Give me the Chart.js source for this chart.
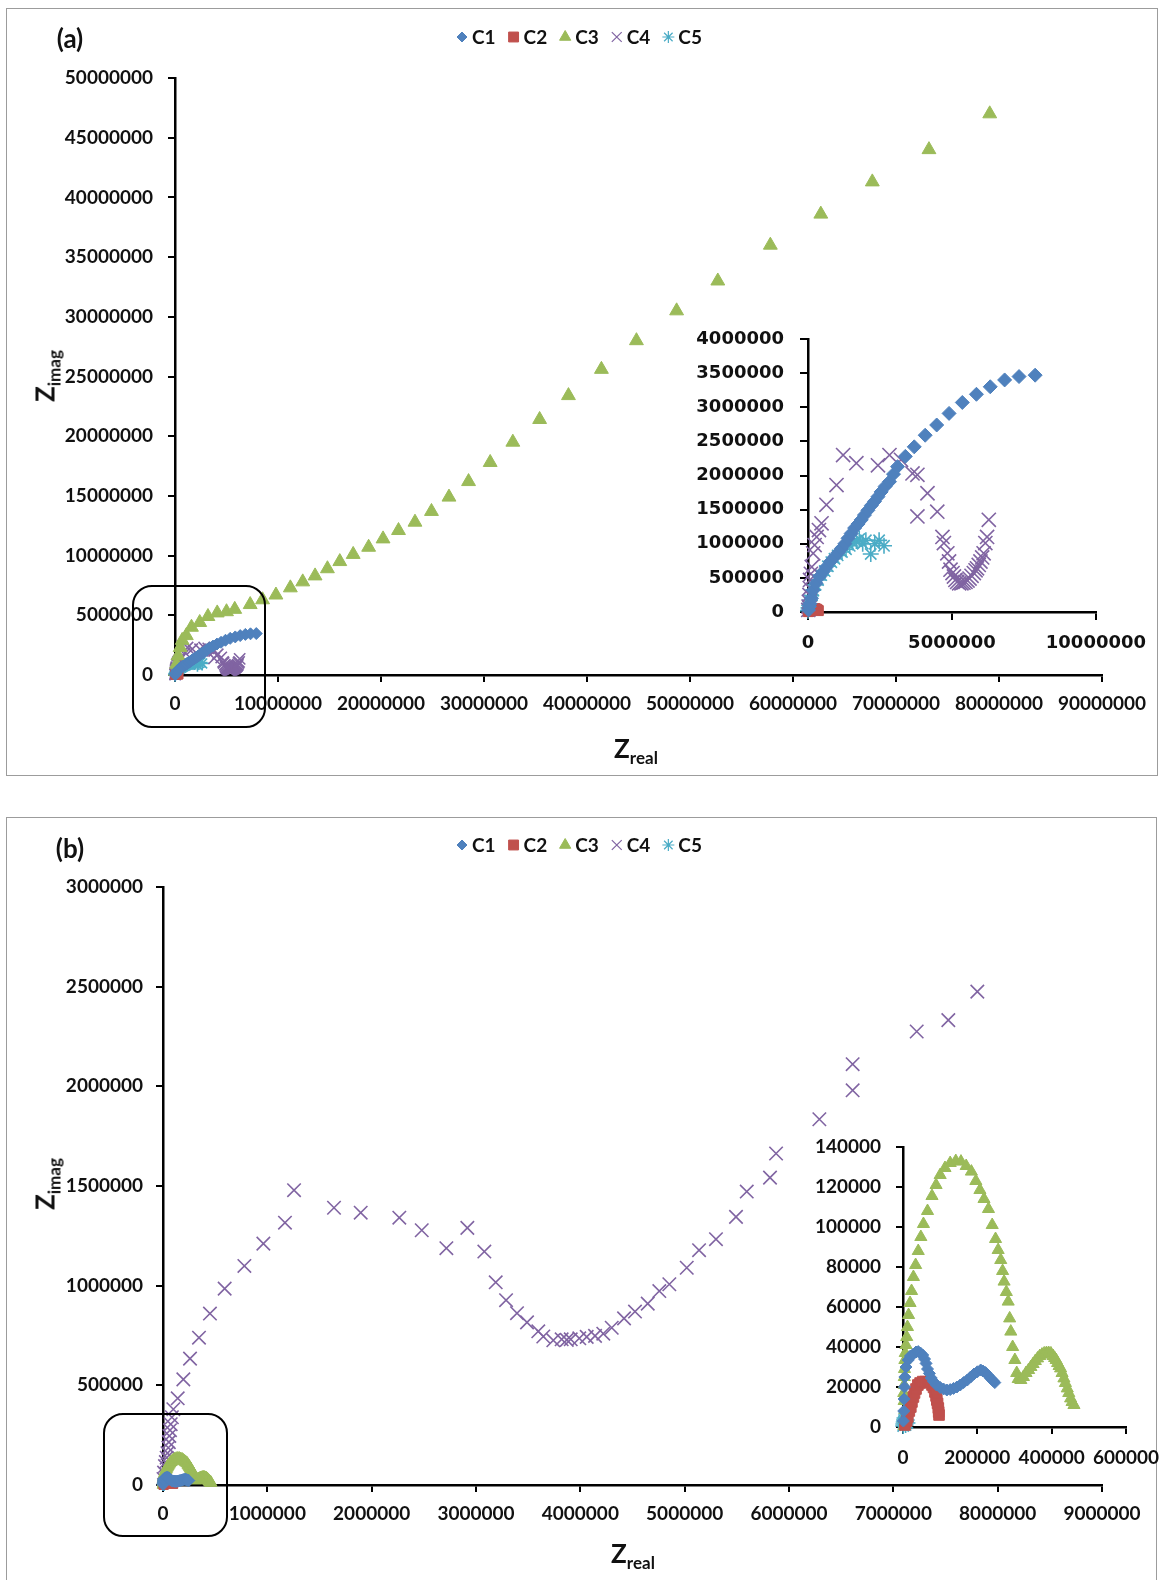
<!DOCTYPE html>
<html>
<head>
<meta charset="utf-8">
<script src="https://cdn.jsdelivr.net/npm/chart.js@4.4.1/dist/chart.umd.min.js"></script>
<style>
  html, body { margin: 0; padding: 0; background: #fff; }
  body { width: 1159px; height: 1580px; position: relative; overflow: hidden; font-family: Lato, "Open Sans", sans-serif; color: #111; }
  .panel { position: absolute; border: 1.5px solid #9c9c9c; box-sizing: border-box; }
  canvas { position: absolute; }
  .zoombox { position: absolute; border: 2.5px solid #000; border-radius: 20px; box-sizing: border-box; z-index: 5; }
  .tag { position: absolute; font-weight: bold; font-size: 26px; line-height: 1; transform: translate(-50%, -50%); }
  .atitle { position: absolute; font-weight: bold; font-size: 26px; line-height: 1; white-space: nowrap; transform: translate(-50%, -50%); }
  .atitle sub { font-size: 17px; vertical-align: -6px; }
  .atitle.vert { transform: translate(-50%, -50%) rotate(-90deg); }
</style>
</head>
<body>
<div class="panel" style="left:6px; top:8px; width:1152px; height:768px"></div>
<div class="panel" style="left:6px; top:817px; width:1151px; height:800px"></div>

<canvas id="mainA" width="1159" height="780" style="left:0; top:0"></canvas>
<canvas id="insetA" width="479" height="380" style="left:680px; top:300px"></canvas>
<canvas id="mainB" width="1159" height="790" style="left:0; top:790px"></canvas>
<canvas id="insetB" width="400" height="400" style="left:780px; top:1110px"></canvas>

<div class="zoombox" style="left:132px; top:585px; width:134px; height:143px"></div>
<div class="zoombox" style="left:103px; top:1413px; width:125px; height:124px"></div>

<div class="tag" style="left:70px; top:38px">(a)</div>
<div class="tag" style="left:70px; top:848px">(b)</div>
<div class="atitle" style="left:636px; top:750px">Z<sub>real</sub></div>
<div class="atitle vert" style="left:47px; top:376px">Z<sub>imag</sub></div>
<div class="atitle" style="left:633px; top:1555px">Z<sub>real</sub></div>
<div class="atitle vert" style="left:47px; top:1184px">Z<sub>imag</sub></div>

<script>
// Impedance spectra, [Zreal, Zimag] pairs, panel (a)
const c1a = [[20000,30000],[50000,80000],[70000,120000],[120000,200000],[180000,320000],[280000,420000],[410000,520000],[520000,590000],[640000,660000],[780000,740000],[930000,810000],[1050000,870000],[1160000,930000],[1280000,1000000],[1390000,1080000],[1500000,1150000],[1620000,1230000],[1740000,1290000],[1850000,1350000],[1960000,1420000],[2080000,1490000],[2200000,1560000],[2310000,1620000],[2430000,1690000],[2540000,1760000],[2680000,1840000],[2830000,1910000],[2970000,2020000],[3110000,2130000],[3380000,2280000],[3690000,2420000],[4070000,2590000],[4470000,2740000],[4900000,2910000],[5360000,3070000],[5850000,3190000],[6330000,3300000],[6830000,3400000],[7330000,3450000],[7890000,3470000]];
const c2a = [[10000,5000],[30000,10000],[60000,20000],[100000,30000],[150000,40000],[200000,50000],[250000,50000],[300000,40000],[330000,30000],[360000,20000]];
const c3a = [[50000,300000],[150000,900000],[300000,1600000],[500000,2300000],[700000,2900000],[1100000,3300000],[1600000,4000000],[2400000,4400000],[3200000,4900000],[4100000,5200000],[5000000,5300000],[5800000,5500000],[7300000,5900000],[8500000,6300000],[9800000,6700000],[11200000,7300000],[12400000,7800000],[13600000,8300000],[14800000,8900000],[16000000,9500000],[17300000,10100000],[18800000,10700000],[20200000,11400000],[21700000,12100000],[23300000,12800000],[24900000,13700000],[26600000,14900000],[28500000,16200000],[30600000,17800000],[32800000,19500000],[35400000,21400000],[38200000,23400000],[41400000,25600000],[44800000,28000000],[48700000,30500000],[52700000,33000000],[57800000,36000000],[62700000,38600000],[67700000,41300000],[73200000,44000000],[79100000,47000000]];
const c4a = [[10000,30000],[20000,80000],[30000,150000],[50000,250000],[60000,350000],[70000,470000],[100000,560000],[130000,660000],[180000,860000],[230000,980000],[300000,1100000],[380000,1200000],[470000,1300000],[640000,1570000],[990000,1860000],[1220000,2300000],[1680000,2180000],[2430000,2150000],[2830000,2300000],[3230000,2230000],[3630000,2030000],[3800000,2010000],[3800000,1400000],[4150000,1740000],[4490000,1470000],[4670000,1100000],[4720000,1010000],[4840000,860000],[4900000,740000],[4950000,620000],[5020000,570000],[5070000,520000],[5120000,470000],[5180000,440000],[5250000,420000],[5330000,420000],[5400000,430000],[5470000,440000],[5540000,460000],[5610000,490000],[5680000,530000],[5760000,570000],[5820000,610000],[5870000,640000],[5930000,690000],[5990000,740000],[6050000,800000],[6100000,860000],[6160000,1010000],[6220000,1100000],[6280000,1350000]];
const c5a = [[0,20000],[20000,60000],[40000,100000],[70000,170000],[110000,240000],[180000,320000],[260000,400000],[350000,470000],[460000,540000],[580000,600000],[690000,670000],[810000,730000],[920000,780000],[1030000,830000],[1180000,880000],[1320000,920000],[1450000,970000],[1550000,1020000],[1680000,1040000],[1780000,1070000],[1900000,1000000],[2010000,1050000],[2180000,850000],[2320000,1000000],[2470000,1050000],[2640000,970000]];

// Panel (b)
const c1b = [[1000,3000],[2000,8000],[3000,14000],[4000,20000],[5000,25000],[8000,30000],[14000,33500],[20000,35500],[28000,36500],[35000,37500],[41000,37700],[47000,37000],[53000,36000],[58000,34000],[62000,31800],[66000,29000],[71000,26800],[76000,24500],[82000,22700],[90000,21000],[100000,19800],[109000,19000],[118000,18500],[127000,18700],[136000,19300],[145000,20000],[154000,21000],[163000,22200],[173000,23500],[182000,25000],[191000,26500],[200000,27600],[209000,28500],[215000,28000],[222000,27200],[229000,25800],[236000,24300],[242000,23200],[247000,22200]];
const c2b = [[5000,1000],[10000,3000],[13000,5000],[17000,8000],[21000,10000],[24000,12500],[28000,15000],[31000,17000],[35000,19000],[40000,21000],[46000,22000],[53000,22700],[60000,22700],[67000,22500],[73000,22200],[78000,21000],[82000,19800],[86000,17500],[89000,15500],[91000,13500],[93000,11800],[95000,9500],[96000,7500],[97000,6000]];
const c3b = [[3000,500],[4000,4000],[5000,8500],[3000,13000],[2000,17000],[3000,21000],[3500,25000],[4000,29000],[5000,33500],[6000,37000],[8000,41000],[10000,45000],[12000,50000],[15000,56000],[19000,62000],[23000,68000],[28000,75000],[34000,81000],[41000,88000],[48000,95000],[55000,101500],[66000,108000],[78000,115500],[89000,121000],[100000,126000],[113000,129500],[127000,132000],[142000,133000],[156000,132700],[170000,130500],[184000,127700],[196000,123000],[207000,118500],[218000,114000],[230000,109000],[240000,101000],[249000,94000],[256000,88500],[263000,83500],[268000,78000],[272000,72700],[278000,67500],[283000,62700],[287000,54300],[290000,47700],[295000,40000],[301000,33500],[306000,27000],[310000,24000],[317000,23500],[324000,25000],[331000,27000],[338000,28500],[344000,30000],[350000,31500],[356000,33000],[362000,34300],[368000,35500],[374000,36200],[380000,36800],[386000,37000],[392000,37000],[398000,36800],[404000,35500],[408000,34500],[412000,33500],[416000,32000],[420000,30500],[424000,29300],[428000,27000],[433000,24300],[437000,22000],[442000,19300],[446000,17000],[451000,14300],[455000,12500],[460000,11000]];
const c4b = [[5000,30000],[10000,62000],[19000,95000],[27000,115000],[35000,137000],[43000,160000],[51000,187000],[56000,215000],[61000,246000],[67000,275000],[74000,305000],[85000,340000],[99000,380000],[141000,435000],[195000,530000],[259000,634000],[345000,739000],[450000,860000],[591000,985000],[780000,1099000],[962000,1211000],[1169000,1316000],[1256000,1479000],[1639000,1391000],[1895000,1366000],[2265000,1341000],[2480000,1278000],[2716000,1188000],[2917000,1290000],[3080000,1171000],[3189000,1017000],[3288000,927000],[3393000,862000],[3489000,816000],[3597000,771000],[3645000,745000],[3741000,726000],[3821000,731000],[3870000,728000],[3908000,731000],[3990000,736000],[4061000,743000],[4141000,748000],[4220000,759000],[4301000,789000],[4419000,836000],[4524000,870000],[4646000,910000],[4757000,973000],[4853000,1007000],[5020000,1090000],[5138000,1178000],[5300000,1233000],[5492000,1345000],[5595000,1472000],[5818000,1542000],[5876000,1663000],[6291000,1835000],[6610000,1980000],[6610000,2111000],[7224000,2275000],[7527000,2332000],[7805000,2475000]];
const c5b = [[500,500],[1000,1500],[2000,2500],[3000,3500],[4000,4500],[5000,3000],[6000,2000],[7000,1000],[8000,2500],[10000,3500],[12000,2000]];

const seriesNames = ["C1", "C2", "C3", "C4", "C5"];
const markerStyles = ["rectRot", "rect", "triangle", "crossRot", "star"];
const markerColors = ["#4F81BD", "#C0504D", "#9BBB59", "#8064A2", "#4BACC6"];

const tickFont = { family: "Lato, 'Open Sans', sans-serif", size: 19, weight: "bold" };
const insetAFont = { family: "'DejaVu Sans', sans-serif", size: 18, weight: "bold" };

// Excel-style key drawn across the top of each panel
const seriesKey = {
  id: "seriesKey",
  afterDraw(chart, args, opts) {
    const ctx = chart.ctx;
    const sizes = [5, 7, 6.5, 7, 6];
    let x = opts.x;
    ctx.save();
    ctx.font = "bold 19px Lato, 'Open Sans', sans-serif";
    ctx.textBaseline = "middle";
    seriesNames.forEach((name, i) => {
      ctx.fillStyle = markerColors[i];
      ctx.strokeStyle = markerColors[i];
      ctx.lineWidth = i >= 3 ? 1.2 : 1;
      Chart.helpers.drawPoint(ctx, { pointStyle: markerStyles[i], radius: sizes[i], rotation: 0, borderWidth: 1 }, x, opts.y);
      ctx.fillStyle = "#111";
      ctx.fillText(name, x + 10, opts.y + 1);
      x += 10 + ctx.measureText(name).width + 18;
    });
    ctx.restore();
  },
};

function makeSeries(list, radii) {
  return list.map(([idx, pts]) => {
    const cross = markerStyles[idx] === "crossRot" || markerStyles[idx] === "star";
    return {
      label: seriesNames[idx],
      data: pts.map((p) => ({ x: p[0], y: p[1] })),
      pointStyle: markerStyles[idx],
      pointRadius: radii[idx],
      pointBackgroundColor: markerColors[idx],
      pointBorderColor: markerColors[idx],
      pointBorderWidth: cross ? 1.6 : 1,
      showLine: false,
      clip: false,
    };
  });
}

function axis(max, step, size, pad, font, tickLen, isX) {
  return {
    type: "linear",
    min: 0,
    max: max,
    afterFit: (s) => { if (isX) s.height = size; else s.width = size; },
    ticks: {
      stepSize: step,
      padding: pad,
      color: "#111",
      font: font,
      maxRotation: 0,
      autoSkip: false,
      callback: (v) => String(v),
    },
    grid: { drawOnChartArea: false, drawTicks: true, tickLength: tickLen, color: "#000", lineWidth: 2 },
    border: { color: "#000", width: 2.5 },
  };
}

function makePlot(id, datasets, o) {
  return new Chart(document.getElementById(id), {
    type: "scatter",
    data: { datasets: datasets },
    plugins: o.key ? [seriesKey] : [],
    options: {
      responsive: false,
      animation: false,
      events: [],
      layout: { padding: o.padding },
      plugins: {
        legend: { display: false },
        tooltip: { enabled: false },
        seriesKey: o.key || {},
      },
      scales: {
        x: axis(o.xMax, o.xStep, o.xH, o.xPad, o.font, o.tick, true),
        y: axis(o.yMax, o.yStep, o.yW, o.yPad, o.font, o.tick, false),
      },
    },
  });
}

makePlot("mainA", makeSeries([[0, c1a], [1, c2a], [2, c3a], [3, c4a], [4, c5a]], [6, 6, 8, 8, 7]), {
  padding: { left: 0, top: 78, right: 57, bottom: 45 },
  xMax: 90000000, xStep: 10000000, yMax: 50000000, yStep: 5000000,
  xH: 60, yW: 175, xPad: 10, yPad: 15, tick: 7, font: tickFont,
  key: { x: 462, y: 37 },
});

makePlot("insetA", makeSeries([[0, c1a], [1, c2a], [3, c4a], [4, c5a]], [7, 7, 8, 10, 8]), {
  padding: { left: 0, top: 39, right: 61, bottom: 18 },
  xMax: 10000000, xStep: 5000000, yMax: 4000000, yStep: 500000,
  xH: 50, yW: 128, xPad: 13, yPad: 16, tick: 8, font: insetAFont,
});

makePlot("mainB", makeSeries([[0, c1b], [1, c2b], [2, c3b], [3, c4b], [4, c5b]], [6, 6.5, 7, 9.5, 6]), {
  padding: { left: 0, top: 97, right: 57, bottom: 35 },
  xMax: 9000000, xStep: 1000000, yMax: 3000000, yStep: 500000,
  xH: 60, yW: 163, xPad: 10, yPad: 13, tick: 7, font: tickFont,
  key: { x: 462, y: 55 },
});

makePlot("insetB", makeSeries([[0, c1b], [1, c2b], [2, c3b], [4, c5b]], [6, 7.5, 7, 9, 8]), {
  padding: { left: 0, top: 37, right: 54, bottom: 33 },
  xMax: 600000, xStep: 200000, yMax: 140000, yStep: 20000,
  xH: 50, yW: 123, xPad: 12, yPad: 15, tick: 7, font: tickFont,
});
</script>
</body>
</html>
